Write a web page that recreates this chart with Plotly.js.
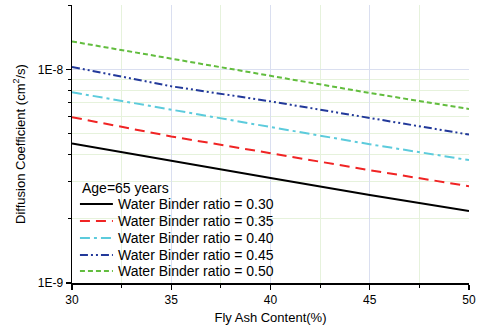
<!DOCTYPE html>
<html>
<head>
<meta charset="utf-8">
<script src="https://cdn.plot.ly/plotly-3.0.1.min.js"></script>
<style>
  html, body { margin: 0; padding: 0; background: #fff; }
  #chart { width: 481px; height: 331px; }
</style>
</head>
<body>
<div id="chart"></div>
<script>
// Fly ash content (%)
const flyAsh = [30, 35, 40, 45, 50];

// Diffusion coefficient (cm^2/s) at age 65 years, one series per water/binder ratio
const wb030 = [4.50e-9, 3.72e-9, 3.10e-9, 2.58e-9, 2.17e-9];
const wb035 = [5.97e-9, 4.85e-9, 4.05e-9, 3.37e-9, 2.84e-9];
const wb040 = [7.81e-9, 6.50e-9, 5.37e-9, 4.46e-9, 3.76e-9];
const wb045 = [1.026e-8, 8.33e-9, 7.08e-9, 5.90e-9, 4.95e-9];
const wb050 = [1.35e-8, 1.122e-8, 9.27e-9, 7.75e-9, 6.52e-9];

const seriesNames = [
  'Water Binder ratio = 0.30',
  'Water Binder ratio = 0.35',
  'Water Binder ratio = 0.40',
  'Water Binder ratio = 0.45',
  'Water Binder ratio = 0.50'
];
const legendTitle = 'Age=65 years';

const xTicks = [30, 35, 40, 45, 50];
const xMinorTicks = [32.5, 37.5, 42.5, 47.5];
const yTicks = [1e-9, 1e-8];
const yTickLabels = ['1E-9', '1E-8'];
const yMinorTicks = [2e-9, 3e-9, 4e-9, 5e-9, 6e-9, 7e-9, 8e-9, 9e-9, 2e-8];

const styles = [
  { color: '#000000', dash: 'solid' },
  { color: '#f02424', dash: '10px,6px' },
  { color: '#5ccbdc', dash: '10px,4px,3px,4px' },
  { color: '#22399a', dash: '8px,3px,2px,3px,2px,3px' },
  { color: '#62bd3e', dash: '5px,3px' }
];

const values = [wb030, wb035, wb040, wb045, wb050];

const traces = values.map((v, i) => ({
  x: flyAsh,
  y: v,
  type: 'scatter',
  mode: 'lines',
  name: seriesNames[i],
  showlegend: false,
  line: { color: styles[i].color, dash: styles[i].dash, width: 2 }
}));

const font = 'Liberation Sans, Arial, sans-serif';

// Compact legend block in the lower-left of the plot area (paper coordinates)
const legX0 = 0.020, legX1 = 0.103, legTextX = 0.111;
const legTitleY = 0.342;
const legRowY = [0.284, 0.223, 0.162, 0.101, 0.043];

const annotations = [{
  xref: 'paper', yref: 'paper', x: legX0, y: legTitleY,
  xanchor: 'left', yanchor: 'middle', showarrow: false,
  text: legendTitle, font: { family: font, size: 14, color: '#000' }
}];
const shapes = [];
seriesNames.forEach((name, i) => {
  annotations.push({
    xref: 'paper', yref: 'paper', x: legTextX, y: legRowY[i],
    xanchor: 'left', yanchor: 'middle', showarrow: false,
    text: name, font: { family: font, size: 14, color: '#000' }
  });
  shapes.push({
    type: 'line', xref: 'paper', yref: 'paper',
    x0: legX0, x1: legX1, y0: legRowY[i], y1: legRowY[i],
    line: { color: styles[i].color, dash: styles[i].dash, width: 2 }
  });
});

const layout = {
  width: 481,
  height: 331,
  margin: { l: 72, r: 12, t: 5, b: 48 },
  paper_bgcolor: '#ffffff',
  plot_bgcolor: '#ffffff',
  font: { family: font, color: '#000', size: 12 },
  showlegend: false,
  annotations: annotations,
  shapes: shapes,
  xaxis: {
    range: [30, 50],
    tickmode: 'array', tickvals: xTicks, ticktext: xTicks.map(String),
    ticks: 'outside', ticklen: 5, tickwidth: 1.3, tickcolor: '#000',
    showline: true, linecolor: '#000', linewidth: 1.5,
    showgrid: true, gridcolor: '#dadff0', gridwidth: 1,
    zeroline: false,
    tickfont: { size: 12 },
    minor: {
      tickmode: 'array', tickvals: xMinorTicks,
      ticks: 'outside', ticklen: 3, tickcolor: '#000', tickwidth: 1,
      showgrid: true, gridcolor: '#e6f2dc', gridwidth: 1
    },
    title: { text: 'Fly Ash Content(%)', font: { size: 13 }, standoff: 7 }
  },
  yaxis: {
    type: 'log',
    range: [-9, Math.log10(2e-8)],
    tickmode: 'array', tickvals: yTicks, ticktext: yTickLabels,
    ticks: 'outside', ticklen: 5, tickwidth: 1.3, tickcolor: '#000',
    showline: true, linecolor: '#000', linewidth: 1.5,
    showgrid: true, gridcolor: '#dadff0', gridwidth: 1,
    zeroline: false,
    tickfont: { size: 12 },
    minor: {
      tickmode: 'array', tickvals: yMinorTicks,
      ticks: 'outside', ticklen: 3, tickcolor: '#000', tickwidth: 1,
      showgrid: true, gridcolor: '#e6f2dc', gridwidth: 1
    },
    title: { text: 'Diffusion Coefficient (cm<sup>2</sup>/s)', font: { size: 13 }, standoff: 9 }
  }
};

Plotly.newPlot('chart', traces, layout, { staticPlot: true, displayModeBar: false });
</script>
</body>
</html>
